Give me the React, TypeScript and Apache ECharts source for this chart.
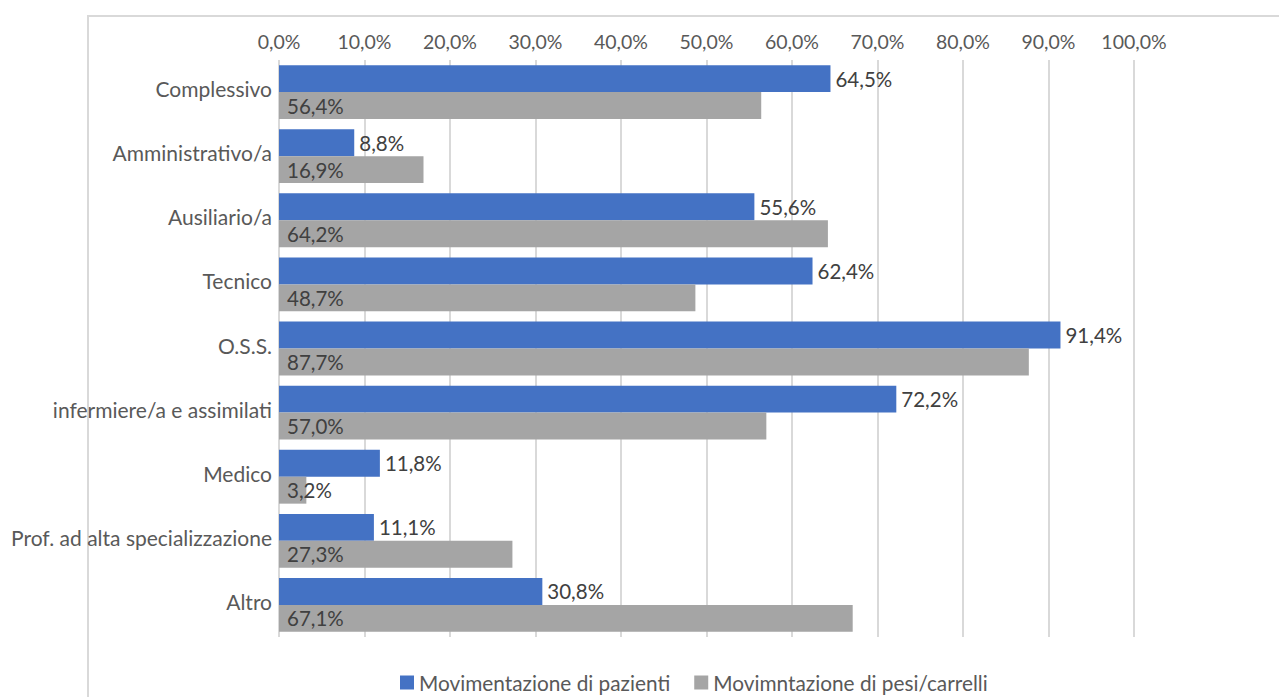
import React, { useEffect, useRef } from "react";
import * as echarts from "echarts";

const categories = [
  "Complessivo",
  "Amministrativo/a",
  "Ausiliario/a",
  "Tecnico",
  "O.S.S.",
  "infermiere/a e assimilati",
  "Medico",
  "Prof. ad alta specializzazione",
  "Altro",
];
const pazienti = [64.5, 8.8, 55.6, 62.4, 91.4, 72.2, 11.8, 11.1, 30.8];
const pesi = [56.4, 16.9, 64.2, 48.7, 87.7, 57.0, 3.2, 27.3, 67.1];
const seriesNames = ["Movimentazione di pazienti", "Movimntazione di pesi/carrelli"];

const fmt = (v: number) => v.toFixed(1).replace(".", ",") + "%";
const FONT = "Lato, 'Open Sans', sans-serif";
const TXT = "#595959";

export default function App() {
  const ref = useRef<HTMLDivElement>(null);
  useEffect(() => {
    if (!ref.current) return;
    const chart = echarts.init(ref.current, undefined, { renderer: "svg" });
    chart.setOption({
      animation: false,
      textStyle: { fontFamily: FONT },
      graphic: [
        {
          type: "polyline",
          shape: { points: [[88, 697], [88, 16], [1279, 16]] },
          style: { stroke: "#d9d9d9", lineWidth: 2, fill: "none" },
          silent: true,
        },
      ],
      grid: { left: 279, right: 145, top: 60, bottom: 60, containLabel: false },
      legend: {
        bottom: -1,
        left: 395,
        itemWidth: 14,
        itemHeight: 14,
        itemGap: 24,
        icon: "rect",
        textStyle: { fontFamily: FONT, fontSize: 20.8, color: TXT },
        data: seriesNames,
      },
      xAxis: {
        type: "value",
        position: "top",
        min: 0,
        max: 100,
        interval: 10,
        axisLine: { show: false },
        axisTick: { show: false },
        axisLabel: {
          formatter: (v: number) => fmt(v),
          fontFamily: FONT,
          fontSize: 19.5,
          color: TXT,
          margin: 9,
        },
        splitLine: { show: true, lineStyle: { color: "#d9d9d9", width: 2 } },
      },
      yAxis: {
        type: "category",
        inverse: true,
        data: categories,
        axisLine: { show: false },
        axisTick: { show: false },
        axisLabel: {
          fontFamily: FONT,
          fontSize: 21,
          color: TXT,
          margin: 7,
          verticalAlign: "bottom",
          lineHeight: 7,
        },
      },
      series: [
        {
          name: seriesNames[0],
          type: "bar",
          data: pazienti,
          barGap: "0%",
          barCategoryGap: "16%",
          itemStyle: { color: "#4472C4" },
          label: {
            show: true,
            position: "right",
            distance: 5,
            formatter: (p: any) => fmt(p.value),
            fontFamily: FONT,
            fontSize: 20.5,
            color: "#404040",
          },
        },
        {
          name: seriesNames[1],
          type: "bar",
          data: pesi,
          barGap: "0%",
          barCategoryGap: "16%",
          itemStyle: { color: "#A5A5A5" },
          label: {
            show: true,
            position: "insideLeft",
            distance: 8,
            formatter: (p: any) => fmt(p.value),
            fontFamily: FONT,
            fontSize: 20.5,
            color: "#404040",
          },
        },
      ],
    });
    return () => chart.dispose();
  }, []);
  return <div ref={ref} style={{ width: 1279, height: 697, position: "absolute", left: 0, top: 0 }} />;
}
